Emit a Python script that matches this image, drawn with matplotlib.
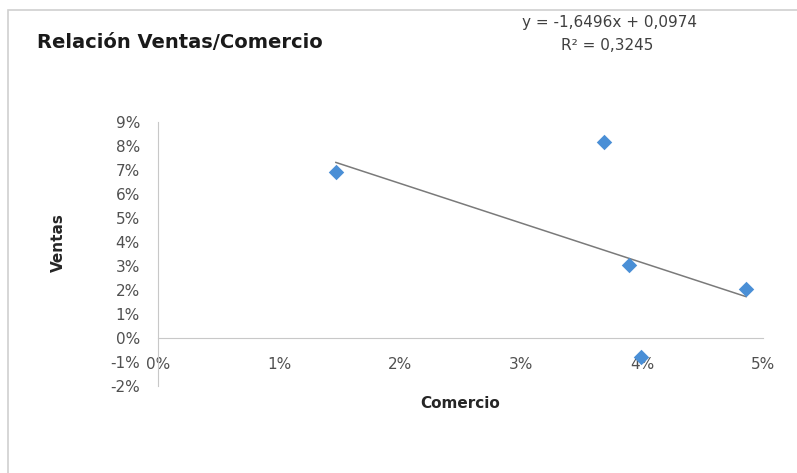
import matplotlib.pyplot as plt
from matplotlib.patches import Rectangle
from matplotlib.ticker import FuncFormatter
import numpy as np

plt.rcParams['font.family'] = ['DejaVu Sans']

# Comercio vs Ventas (fractions)
comercio = [0.0147, 0.0369, 0.0389, 0.0399, 0.0486]
ventas = [0.069, 0.0817, 0.0304, -0.008, 0.0204]

# linear trendline coefficients
slope = -1.6496
intercept = 0.0974
r2 = 0.3245

fig = plt.figure(figsize=(7.97, 4.73), dpi=100)
ax = fig.add_axes([158 / 797, 1 - 386 / 473, 605 / 797, 264 / 473])

# chart area border (top and left edges visible)
fig.patches.append(Rectangle((8 / 797, -0.1), 1.2, 1 - 10 / 473 + 0.1,
                             transform=fig.transFigure, fill=False,
                             edgecolor='#d0d0d0', lw=1.2))

ax.scatter(comercio, ventas, marker='D', s=62, color='#4a8fd6', zorder=3,
           linewidths=0)

xt = np.array([min(comercio), max(comercio)])
ax.plot(xt, slope * xt + intercept, color='#7a7a7a', lw=1.1, zorder=2)

ax.set_xlim(0, 0.05)
ax.set_ylim(-0.02, 0.09)
ax.set_xticks(np.arange(0, 0.051, 0.01))
ax.set_yticks(np.arange(-0.02, 0.091, 0.01))
pct = FuncFormatter(lambda v, _: f'{round(v * 100):d}%')
ax.xaxis.set_major_formatter(pct)
ax.yaxis.set_major_formatter(pct)

for s in ['top', 'right']:
    ax.spines[s].set_visible(False)
ax.spines['bottom'].set_position(('data', 0))
ax.spines['bottom'].set_color('#c8c8c8')
ax.spines['left'].set_color('#c8c8c8')
ax.tick_params(axis='both', length=0, labelsize=11, labelcolor='#505050')
ax.tick_params(axis='x', pad=14)
ax.tick_params(axis='y', pad=13)
ax.patch.set_visible(False)

fig.text(37 / 797, 1 - 42 / 473, 'Relación Ventas/Comercio', fontsize=14,
         fontweight='bold', color='#1a1a1a', va='center', ha='left')
fig.text(610 / 797, 1 - 22 / 473, 'y = -1,6496x + 0,0974', fontsize=11,
         color='#404040', va='center', ha='center')
fig.text(607 / 797, 1 - 45 / 473, 'R² = 0,3245', fontsize=11,
         color='#404040', va='center', ha='center')
fig.text(58 / 797, 1 - 243 / 473, 'Ventas', fontsize=11, fontweight='bold',
         color='#262626', rotation=90, va='center', ha='center')
fig.text(460 / 797, 1 - 403 / 473, 'Comercio', fontsize=11, fontweight='bold',
         color='#262626', va='center', ha='center')

fig.savefig('out.png', dpi=100)
